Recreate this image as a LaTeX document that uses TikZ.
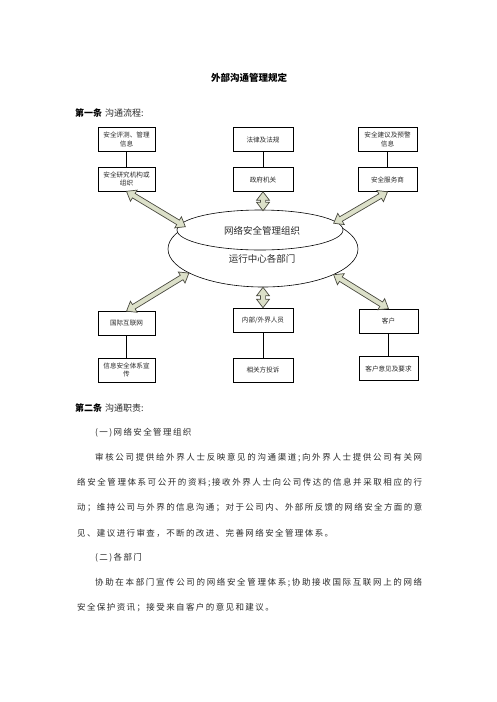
\documentclass[tikz,border=0pt]{standalone}
\usepackage{fontspec}
\setmainfont{Noto Sans CJK SC}
\usetikzlibrary{calc,shapes.geometric}
\definecolor{arrowfill}{HTML}{DCE0C9}
\definecolor{arrowline}{HTML}{4A4A40}
\definecolor{txt}{HTML}{2A2A2A}
\def\spglue{\hskip 1.4pt plus 1fil\relax}
\def\spchars#1{\ifx#1\relax\else#1\spglue\expandafter\spchars\fi}
\newcommand\fullline[2]{\hbox to #1{\spchars#2\relax\unskip}}
\newcommand\lastline[1]{\hbox{\def\spglue{\hskip 1.4pt\relax}\spchars#1\relax\unskip}}
\newcommand\fatarrow[2]{%
  \path[fatarrowstyle] let \p1=(#1), \p2=(#2),
    \n1={atan2(\y2-\y1,\x2-\x1)}, \n2={veclen(\x2-\x1,\y2-\y1)} in
    {[shift={(\p1)}, rotate=\n1]
     (0pt,0pt) -- (8.5pt,6.5pt) -- (8.5pt,2.6pt) -- (\n2-8.5pt,2.6pt) -- (\n2-8.5pt,6.5pt)
     -- (\n2,0pt) -- (\n2-8.5pt,-6.5pt) -- (\n2-8.5pt,-2.6pt) -- (8.5pt,-2.6pt) -- (8.5pt,-6.5pt) -- cycle};}
\begin{document}
\begin{tikzpicture}[x=1pt,y=-1pt,
  box/.style={draw=black, line width=0.6pt, minimum height=24pt, inner sep=1pt,
    align=center, text=txt, font=\fontsize{6.6}{8.6}\selectfont},
  boxl/.style={box, minimum width=57pt, text width=53pt},
  boxm/.style={box, minimum width=60pt, text width=56pt},
  boxr/.style={box, minimum width=59pt, text width=55pt},
  link/.style={draw=black, line width=0.6pt},
  fatarrowstyle/.style={fill=arrowfill, draw=arrowline, line width=0.7pt, line join=miter},
  body/.style={anchor=west, inner sep=0pt, text=txt, font=\fontsize{8.5}{10}\selectfont},
  head/.style={anchor=west, inner sep=0pt, text=black, font=\fontsize{9}{10}\selectfont}]
\useasboundingbox (0,0) rectangle (496,702);
\fill[white] (0,0) rectangle (496,702);

% title
\node[inner sep=0pt, font=\bfseries\fontsize{9.5}{11}\selectfont] (title) at (249,78) {外部沟通管理规定};
\node[head] (art1) at (75,113) {\textbf{第一条}\hspace{3pt}{\color{txt}沟通流程:}};

% ellipses
\node[draw=black, line width=0.6pt, ellipse, minimum width=190pt, minimum height=76pt, inner sep=0pt] (org) at (263,249) {};
\node[draw=black, line width=0.6pt, fill=white, ellipse, minimum width=166pt, minimum height=40pt, inner sep=0pt] (orgtop) at (260,230) {};
\node[inner sep=0pt, text=txt, font=\fontsize{9.5}{11}\selectfont] (orgt1) at (262,231) {网络安全管理组织};
\node[inner sep=0pt, text=txt, font=\fontsize{9.5}{11}\selectfont] (orgt2) at (262,259) {运行中心各部门};

% top boxes
\node[boxl] (L1) at (126.5,139.5) {安全评测、管理\\信息};
\node[boxl] (L2) at (126.5,179) {安全研究机构或\\组织};
\node[boxm] (M1) at (263,139.5) {法律及法规};
\node[boxm] (M2) at (263,179.5) {政府机关};
\node[boxr] (R1) at (387.5,139.5) {安全建议及预警\\信息};
\node[boxr] (R2) at (387.5,179.5) {安全服务商};
\draw[link] (L1) -- (L2);
\draw[link] (M1) -- (M2);
\draw[link] (R1) -- (R2);

% bottom boxes
\node[boxl] (BL1) at (126.5,323.5) {国际互联网};
\node[boxl] (BL2) at (126.5,370) {信息安全体系宣\\传};
\node[boxm] (BM1) at (263,320) {内部/外界人员};
\node[boxm] (BM2) at (263,370) {相关方投诉};
\node[boxr] (BR1) at (388.5,321) {客户};
\node[boxr] (BR2) at (388.5,368.5) {客户意见及要求};
\draw[link] (BL1) -- (BL2);
\draw[link] (BM1) -- (BM2);
\draw[link] (BR1) -- (BR2);

% fat double arrows
\fatarrow{L2.south}{org.164}
\fatarrow{M2.south}{org.north}
\fatarrow{R2.south}{org.20}
\fatarrow{org.198}{BL1.north}
\fatarrow{org.south}{BM1.north}
\fatarrow{org.-20}{BR1.north}

% article 2
\node[head] (art2) at (75,408) {\textbf{第二条}\hspace{3pt}{\color{txt}沟通职责:}};
\node[body] (s1) at (95,433) {\lastline{(一)网络安全管理组织}};
\node[body] (p1) at (95,458) {\fullline{327pt}{审核公司提供给外界人士反映意见的沟通渠道;向外界人士提供公司有关网}};
\node[body] (p2) at (77,483) {\fullline{345pt}{络安全管理体系可公开的资料;接收外界人士向公司传达的信息并采取相应的行}};
\node[body] (p3) at (77,508) {\fullline{345pt}{动；维持公司与外界的信息沟通；对于公司内、外部所反馈的网络安全方面的意}};
\node[body] (p4) at (77,533) {\lastline{见、建议进行审查，不断的改进、完善网络安全管理体系。}};
\node[body] (s2) at (95,558) {\lastline{(二)各部门}};
\node[body] (q1) at (95,583) {\fullline{327pt}{协助在本部门宣传公司的网络安全管理体系;协助接收国际互联网上的网络}};
\node[body] (q2) at (77,608) {\lastline{安全保护资讯；接受来自客户的意见和建议。}};
\end{tikzpicture}
\end{document}
